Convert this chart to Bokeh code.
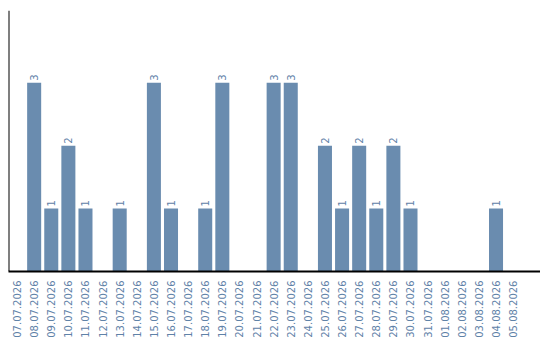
import math
from bokeh.plotting import figure
from bokeh.models import ColumnDataSource, FixedTicker, Range1d, Span
from bokeh.core.properties import value
from bokeh.embed import file_html
from bokeh.resources import INLINE

dates = [
    "07.07.2026", "08.07.2026", "09.07.2026", "10.07.2026", "11.07.2026",
    "12.07.2026", "13.07.2026", "14.07.2026", "15.07.2026", "16.07.2026",
    "17.07.2026", "18.07.2026", "19.07.2026", "20.07.2026", "21.07.2026",
    "22.07.2026", "23.07.2026", "24.07.2026", "25.07.2026", "26.07.2026",
    "27.07.2026", "28.07.2026", "29.07.2026", "30.07.2026", "31.07.2026",
    "01.08.2026", "02.08.2026", "03.08.2026", "04.08.2026", "05.08.2026",
]
counts = [0, 3, 1, 2, 1, 0, 1, 0, 3, 1, 0, 1, 3, 0, 0,
          3, 3, 0, 2, 1, 2, 1, 2, 1, 0, 0, 0, 0, 1, 0]

BAR = "#6a8caf"
TEXT = "#5f82a8"

xs = list(range(len(dates)))
src = ColumnDataSource(dict(x=xs, y=counts))
lab_idx = [i for i, c in enumerate(counts) if c > 0]
lab_src = ColumnDataSource(dict(
    x=[xs[i] for i in lab_idx],
    y=[counts[i] for i in lab_idx],
    t=[str(counts[i]) for i in lab_idx],
))

p = figure(width=540, height=340, output_backend="svg", toolbar_location=None,
           x_range=Range1d(-0.5, 30.6), y_range=Range1d(0, 4.15),
           min_border_left=8, min_border_right=0, min_border_top=10,
           min_border_bottom=0)
p.outline_line_color = None
p.xgrid.visible = False
p.ygrid.visible = False
p.yaxis.visible = False

p.vbar(x="x", top="y", width=0.82, bottom=0, source=src,
       fill_color=BAR, line_color=None)

p.text(x="x", y="y", text="t", source=lab_src, angle=math.pi / 2,
       text_align="left", text_baseline="middle", y_offset=-2,
       text_color=TEXT, text_font=value("DejaVu Sans"), text_font_size="10px")

p.add_layout(Span(location=-0.5, dimension="height", line_color="black",
                  line_width=2))

ax = p.xaxis[0]
ax.ticker = FixedTicker(ticks=xs)
ax.major_label_overrides = {i: d for i, d in enumerate(dates)}
ax.major_label_orientation = math.pi / 2
ax.major_label_text_color = TEXT
ax.major_label_text_font = "DejaVu Sans"
ax.major_label_text_font_size = "10px"
ax.major_tick_line_color = None
ax.minor_tick_line_color = None
ax.axis_line_color = "black"
ax.axis_line_width = 2
ax.major_label_standoff = 3

open("out.html", "w").write(file_html(p, INLINE))
